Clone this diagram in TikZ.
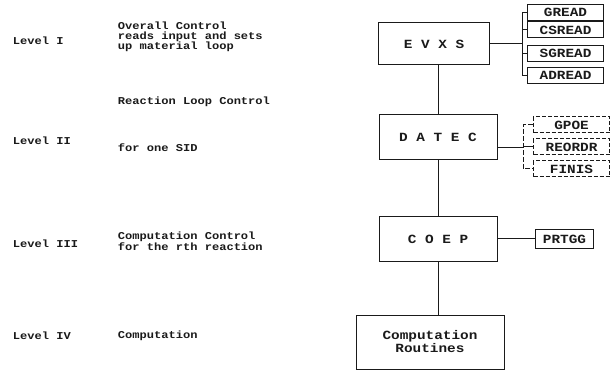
\documentclass[tikz,border=0pt]{standalone}
\usepackage{fontspec}
\setmainfont[FakeStretch=1.15]{Liberation Mono}
\usepackage{tikz}
\usetikzlibrary{positioning,calc}
\definecolor{ink}{HTML}{1A1A1A}

\begin{document}
\begin{tikzpicture}[x=1pt, y=-1pt, ink, line width=1pt,
  lvl/.style={anchor=west, font=\fontsize{10.5}{10}\selectfont\bfseries},
  desc/.style={anchor=west, align=left, font=\fontsize{10.5}{9.5}\selectfont\bfseries},
  ctrl/.style={draw, minimum width=118pt, minimum height=45pt, align=center, font=\fontsize{12.5}{13}\selectfont\bfseries},
  sub/.style={draw, anchor=west, minimum width=76pt, minimum height=16pt, inner sep=1pt, font=\fontsize{12.5}{12}\selectfont\bfseries},
  subdash/.style={sub, dashed, dash pattern=on 4pt off 2pt}
]
  \useasboundingbox (0,0) rectangle (610,371);

  % level labels and descriptions
  \node[lvl] (lv1) at (9,41) {Level I};
  \node[desc] (d1) at (114,37) {Overall Control\\reads input and sets\\up material loop};
  \node[lvl] (lv2) at (9,141) {Level II};
  \node[desc] (d2a) at (114,102) {Reaction Loop Control};
  \node[desc] (d2b) at (114,148) {for one SID};
  \node[lvl] (lv3) at (9,244) {Level III};
  \node[desc] (d3) at (114,241) {Computation Control\\for the rth reaction};
  \node[lvl] (lv4) at (9,336) {Level IV};
  \node[desc] (d4) at (114,336) {Computation};

  % main chain
  \node[ctrl, minimum width=111pt, minimum height=42pt] (evxs) at (434,44) {E V X S};
  \node[ctrl] (datec) at (438,137) {D A T E C};
  \node[ctrl] (coep) at (438,239) {C O E P};
  \node[ctrl, minimum width=148pt, minimum height=54pt] (comp) at (430,342) {Computation\\Routines};

  \draw (datec.north) -- (datec.north |- evxs.south);
  \draw (datec.south) -- (coep.north);
  \draw (coep.south) -- (coep.south |- comp.north);

  % EVXS readers
  \node[sub] (gread) at (527,12.5) {GREAD};
  \node[sub] (csread) at (527,30) {CSREAD};
  \node[sub] (sgread) at (527,53.5) {SGREAD};
  \node[sub] (adread) at (527,75.5) {ADREAD};
  \coordinate (fork1) at (522,44);
  \draw (evxs.east |- fork1) -- (fork1);
  \draw (gread.west) -- (gread.west -| fork1) |- (adread.west);
  \draw (csread.west) -- (csread.west -| fork1);
  \draw (sgread.west) -- (sgread.west -| fork1);

  % DATEC routines
  \node[subdash] (gpoe) at (533,125) {GPOE};
  \node[subdash] (reordr) at (533,147) {REORDR};
  \node[subdash] (finis) at (533,169) {FINIS};
  \coordinate (fork2) at (523,148);
  \draw (datec.east |- fork2) -- (fork2);
  \draw[dashed, dash pattern=on 5pt off 2pt] (gpoe.west) -- (gpoe.west -| fork2) |- (finis.west);
  \draw (reordr.west) -- (reordr.west -| fork2);

  % COEP routine
  \node[sub, minimum width=58pt, minimum height=19pt] (prtgg) at (535,239) {PRTGG};
  \draw (coep.east) -- (prtgg.west);
\end{tikzpicture}
\end{document}
